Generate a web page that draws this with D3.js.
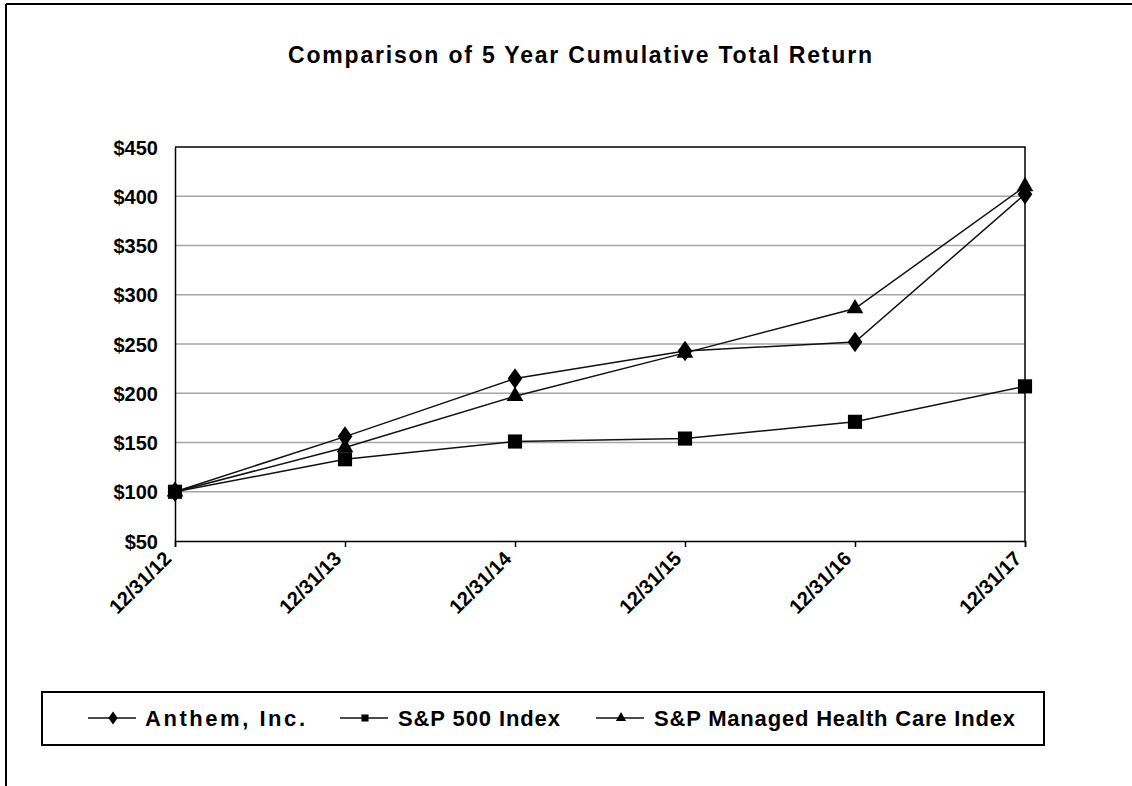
<html>
  <head>
    <script src="https://cdn.jsdelivr.net/npm/d3@7"></script>
    <style>
  body {
    background-color: #ffffff;
    margin: 0;
    padding: 0;
  }
  text {
    font-family: "Liberation Sans", Arial, sans-serif;
    font-weight: bold;
    fill: #000;
  }
    </style>
  </head>
  <body>
    <div id="chart"></div>
    <script>

const dates = ["12/31/12", "12/31/13", "12/31/14", "12/31/15", "12/31/16", "12/31/17"];
const anthem = [100, 156, 215, 243, 252, 402];
const sp500 = [100, 133, 151, 154, 171, 207];
const managedCare = [100, 145, 197, 241, 286, 410];
const yTicks = [50, 100, 150, 200, 250, 300, 350, 400, 450];
const seriesNames = ["Anthem, Inc.", "S&P 500 Index", "S&P Managed Health Care Index"];

const W = 1132, H = 786;
const plot = { left: 175, right: 1025, top: 147, bottom: 541 };

const svg = d3.select("#chart").append("svg")
  .attr("width", W)
  .attr("height", H);

// outer frame (top + left edge visible in the source)
svg.append("line").attr("x1", 6).attr("y1", 4).attr("x2", W).attr("y2", 4)
  .attr("stroke", "#000").attr("stroke-width", 2);
svg.append("line").attr("x1", 6).attr("y1", 4).attr("x2", 6).attr("y2", H)
  .attr("stroke", "#000").attr("stroke-width", 2);

svg.append("text")
  .attr("x", 288).attr("y", 63)
  .attr("font-size", 23)
  .attr("textLength", 584)
  .attr("lengthAdjust", "spacing")
  .text("Comparison of 5 Year Cumulative Total Return");

const x = d3.scalePoint().domain(dates).range([plot.left, plot.right]);
const y = d3.scaleLinear().domain([50, 450]).range([plot.bottom, plot.top]);

// gridlines
svg.append("g")
  .selectAll("line")
  .data(yTicks.filter(d => d > 50 && d < 450))
  .enter().append("line")
  .attr("x1", plot.left).attr("x2", plot.right)
  .attr("y1", d => y(d)).attr("y2", d => y(d))
  .attr("stroke", "#a6a6a6").attr("stroke-width", 1.5);

// plot box top / right
svg.append("path")
  .attr("d", `M${plot.left},${plot.top}H${plot.right}V${plot.bottom}`)
  .attr("fill", "none").attr("stroke", "#000").attr("stroke-width", 1.5);

// y axis
const yAxis = svg.append("g")
  .attr("transform", `translate(${plot.left},0)`)
  .call(d3.axisLeft(y).tickValues(yTicks).tickSize(0).tickPadding(17).tickFormat(d => "$" + d));
yAxis.select(".domain").attr("stroke", "#000").attr("stroke-width", 1.5);
yAxis.selectAll("text").attr("font-size", 20).attr("dy", "0.36em")
  .attr("font-family", null).attr("fill", null);

// x axis
const xAxis = svg.append("g")
  .attr("transform", `translate(0,${plot.bottom})`)
  .call(d3.axisBottom(x).tickSize(6).tickPadding(0));
xAxis.select(".domain").attr("stroke", "#000").attr("stroke-width", 1.5);
xAxis.selectAll(".tick line").attr("stroke", "#000").attr("stroke-width", 1.5);
xAxis.selectAll("text")
  .attr("font-size", 20)
  .attr("font-family", null).attr("fill", null)
  .attr("text-anchor", "end")
  .attr("dy", "0")
  .attr("y", 0)
  .attr("transform", "translate(-3,19) rotate(-45)");

const series = [
  { name: seriesNames[0], values: anthem, shape: d3.symbolDiamond, size: 110 },
  { name: seriesNames[1], values: sp500, shape: d3.symbolSquare, size: 200 },
  { name: seriesNames[2], values: managedCare, shape: d3.symbolTriangle, size: 120 }
];

const line = d3.line()
  .x((d, i) => x(dates[i]))
  .y(d => y(d));

series.forEach(s => {
  svg.append("path")
    .datum(s.values)
    .attr("d", line)
    .attr("fill", "none")
    .attr("stroke", "#111")
    .attr("stroke-width", 1.5);
});

series.forEach(s => {
  svg.append("g")
    .selectAll("path")
    .data(s.values)
    .enter().append("path")
    .attr("d", d3.symbol().type(s.shape).size(s.size))
    .attr("transform", (d, i) => `translate(${x(dates[i])},${y(d)})` + (s.shape === d3.symbolDiamond ? " scale(1.3,1.05)" : ""))
    .attr("fill", "#000");
});

// legend
svg.append("rect")
  .attr("x", 42).attr("y", 692)
  .attr("width", 1002).attr("height", 53)
  .attr("fill", "#fff").attr("stroke", "#000").attr("stroke-width", 2);

const legendItems = [
  { lx: 88, tx: 145, tw: 160, shape: d3.symbolDiamond, size: 45 },
  { lx: 340, tx: 398, tw: 162, shape: d3.symbolSquare, size: 50 },
  { lx: 596, tx: 654, tw: 361, shape: d3.symbolTriangle, size: 45 }
];

legendItems.forEach((it, i) => {
  const g = svg.append("g");
  g.append("line")
    .attr("x1", it.lx).attr("x2", it.lx + 48)
    .attr("y1", 718).attr("y2", 718)
    .attr("stroke", "#111").attr("stroke-width", 1.5);
  g.append("path")
    .attr("d", d3.symbol().type(it.shape).size(it.size))
    .attr("transform", `translate(${it.lx + 25},718)` + (it.shape === d3.symbolDiamond ? " scale(1.3,1.05)" : ""))
    .attr("fill", "#000");
  g.append("text")
    .attr("x", it.tx).attr("y", 726)
    .attr("font-size", 22)
    .attr("textLength", it.tw)
    .attr("lengthAdjust", "spacing")
    .text(seriesNames[i]);
});

    </script>
  </body>
</html>
